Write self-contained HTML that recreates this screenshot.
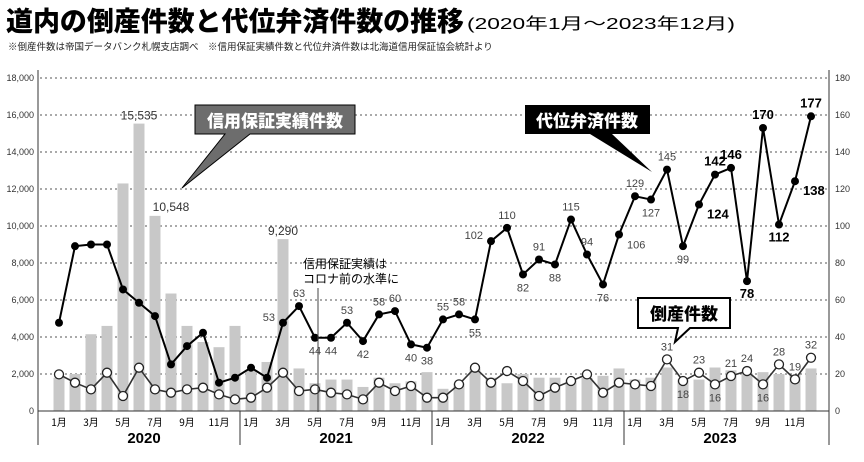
<!DOCTYPE html><html><head><meta charset="utf-8"><style>
body{margin:0;background:#fff;width:864px;height:457px;overflow:hidden;font-family:"Liberation Sans","Noto Sans CJK JP",sans-serif}
</style></head><body>
<svg id="s" width="864" height="457" xmlns="http://www.w3.org/2000/svg" font-family="Liberation Sans, Noto Sans CJK JP, sans-serif">
<text x="6" y="31" font-size="27" font-weight="900" textLength="458" lengthAdjust="spacingAndGlyphs" font-family="Noto Sans CJK JP, sans-serif">道内の倒産件数と代位弁済件数の推移</text>
<text x="467" y="29" font-size="16" textLength="268" lengthAdjust="spacingAndGlyphs" font-family="Liberation Sans, Noto Sans CJK JP, sans-serif">(2020年1月～2023年12月)</text>
<text x="8" y="50" font-size="9.5" fill="#222" font-family="Noto Sans CJK JP, sans-serif">※倒産件数は帝国データバンク札幌支店調べ　※信用保証実績件数と代位弁済件数は北海道信用保証協会統計より</text>
<g id="g"></g>
<polygon points="195,105 355,105 355,134 250,134 182,188 225,134 195,134" fill="#6d6d6d" stroke="#000" stroke-width="1"/>
<text x="275" y="127" font-size="17" font-weight="900" fill="#fff" text-anchor="middle" font-family="Noto Sans CJK JP, sans-serif">信用保証実績件数</text>
<polygon points="525,105 650,105 650,134 612,134 652,172 590,134 525,134" fill="#000"/>
<text x="587" y="127" font-size="17" font-weight="900" fill="#fff" text-anchor="middle" font-family="Noto Sans CJK JP, sans-serif">代位弁済件数</text>
<polygon points="638,298 730,298 730,328 690,328 675,342 678,328 638,328" fill="#fff" stroke="#000" stroke-width="2"/>
<text x="684" y="320" font-size="17" font-weight="900" text-anchor="middle" font-family="Noto Sans CJK JP, sans-serif">倒産件数</text>
<line x1="318" y1="288" x2="318" y2="412" stroke="#444" stroke-width="1"/>
<text x="303" y="268" font-size="12" font-family="Noto Sans CJK JP, sans-serif">信用保証実績は</text>
<text x="303" y="283" font-size="12" font-family="Noto Sans CJK JP, sans-serif">コロナ前の水準に</text>
</svg>
<script>
const g=document.getElementById('g');let h='';
const X=i=>59+16*i, YL=v=>411-v*0.0185, YR=v=>411-v*1.665;
for(let k=0;k<=9;k++){const y=411-37*k;
 if(k>0)h+=`<line x1="40" x2="827" y1="${y}" y2="${y}" stroke="#555" stroke-dasharray="2,3" stroke-width="1"/>`;
 h+=`<text x="34" y="${y+3}" font-size="9" text-anchor="end" fill="#333">${(k*2000).toLocaleString('en-US')}</text>`;
 h+=`<text x="835" y="${y+3}" font-size="9" fill="#333">${k*20}</text>`;}
const bars=[1800,2000,4150,4600,12300,15535,10548,6350,4600,3730,3450,4600,2200,2650,9290,2300,1500,1700,1700,1300,1800,1500,1600,2100,1200,1500,2300,1800,1500,2000,1800,1800,1700,1800,1900,2300,1700,1800,2350,1700,1700,2350,2200,2050,2100,2000,1950,2300];
bars.forEach((v,i)=>h+=`<rect x="${X(i)-5.5}" y="${YL(v)}" width="11" height="${411-YL(v)}" fill="#c8c8c8"/>`);
h+=`<line x1="38" x2="829" y1="411" y2="411" stroke="#333"/>`;
h+=`<line x1="38" x2="38" y1="70" y2="445" stroke="#333"/><line x1="829" x2="829" y1="70" y2="445" stroke="#333"/>`;
[240,432,624].forEach(x=>h+=`<line x1="${x}" x2="${x}" y1="411" y2="445" stroke="#333"/>`);
['2020','2021','2022','2023'].forEach((t,j)=>h+=`<text x="${144+192*j}" y="443" font-size="15" font-weight="bold" text-anchor="middle">${t}</text>`);
for(let i=0;i<48;i+=2)h+=`<text x="${X(i)}" y="426" font-size="10" text-anchor="middle" font-family="Noto Sans CJK JP, sans-serif">${(i%12)+1}月</text>`;
h+=`<text x="${X(5)}" y="${YL(15535)-4}" font-size="12" text-anchor="middle" fill="#333">15,535</text>`;
h+=`<text x="${X(6)+16}" y="${YL(10548)-5}" font-size="12" text-anchor="middle" fill="#333">10,548</text>`;
h+=`<text x="${X(14)}" y="${YL(9290)-4}" font-size="12" text-anchor="middle" fill="#333">9,290</text>`;
const d=[53,99,100,100,73,65,57,28,39,47,17,20,26,20,53,63,44,44,53,42,58,60,40,38,55,58,55,102,110,82,91,88,115,94,76,106,129,127,145,99,124,142,146,78,170,112,138,177];
const b=[22,17,13,23,9,26,13,11,13,14,10,7,8,14,23,12,13,11,10,7,17,12,15,8,8,16,26,17,24,18,9,14,18,22,11,17,16,15,31,18,23,16,21,24,16,28,19,32];
const pl=(arr,c)=>arr.map((v,i)=>`${X(i)},${YR(v)}`).join(' ');
h+=`<polyline points="${pl(b)}" fill="none" stroke="#333" stroke-width="1.6"/>`;
b.forEach((v,i)=>h+=`<circle cx="${X(i)}" cy="${YR(v)}" r="4.5" fill="#fff" stroke="#222" stroke-width="1.3"/>`);
h+=`<polyline points="${pl(d)}" fill="none" stroke="#000" stroke-width="2"/>`;
d.forEach((v,i)=>h+=`<circle cx="${X(i)}" cy="${YR(v)}" r="4" fill="#000"/>`);
const dl={14:'l',15:'a',16:'b',17:'b',18:'a',19:'b',20:'a',21:'a',22:'b',23:'b',24:'a',25:'a',26:'b',27:'l',28:'a',29:'b',30:'a',31:'b',32:'a',33:'a',34:'b',35:'r',36:'a',37:'b',38:'a',39:'b',40:'r',41:'a',42:'a',43:'b',44:'a',45:'b',46:'r',47:'a'};
const lab=(i,v,p,bold)=>{let x=X(i),y=YR(v);let dx=0,dy=-9,an='middle';
 if(p=='b')dy=17;if(p=='l'){dx=-8;dy=-2;an='end'}if(p=='r'){dx=8;dy=14;an='start'}
 return `<text x="${x+dx}" y="${y+dy}" font-size="${bold?13:11}" ${bold?'font-weight="bold" fill="#000"':'fill="#444"'} text-anchor="${an}">${v}</text>`;};
for(const k in dl)h+=lab(+k,d[k],dl[k],+k>=40);
const bl={38:'a',39:'b',40:'a',41:'b',42:'a',43:'a',44:'b',45:'a',46:'a',47:'a'};
for(const k in bl)h+=lab(+k,b[k],bl[k],false);
g.innerHTML=h;
</script>
</body></html>
